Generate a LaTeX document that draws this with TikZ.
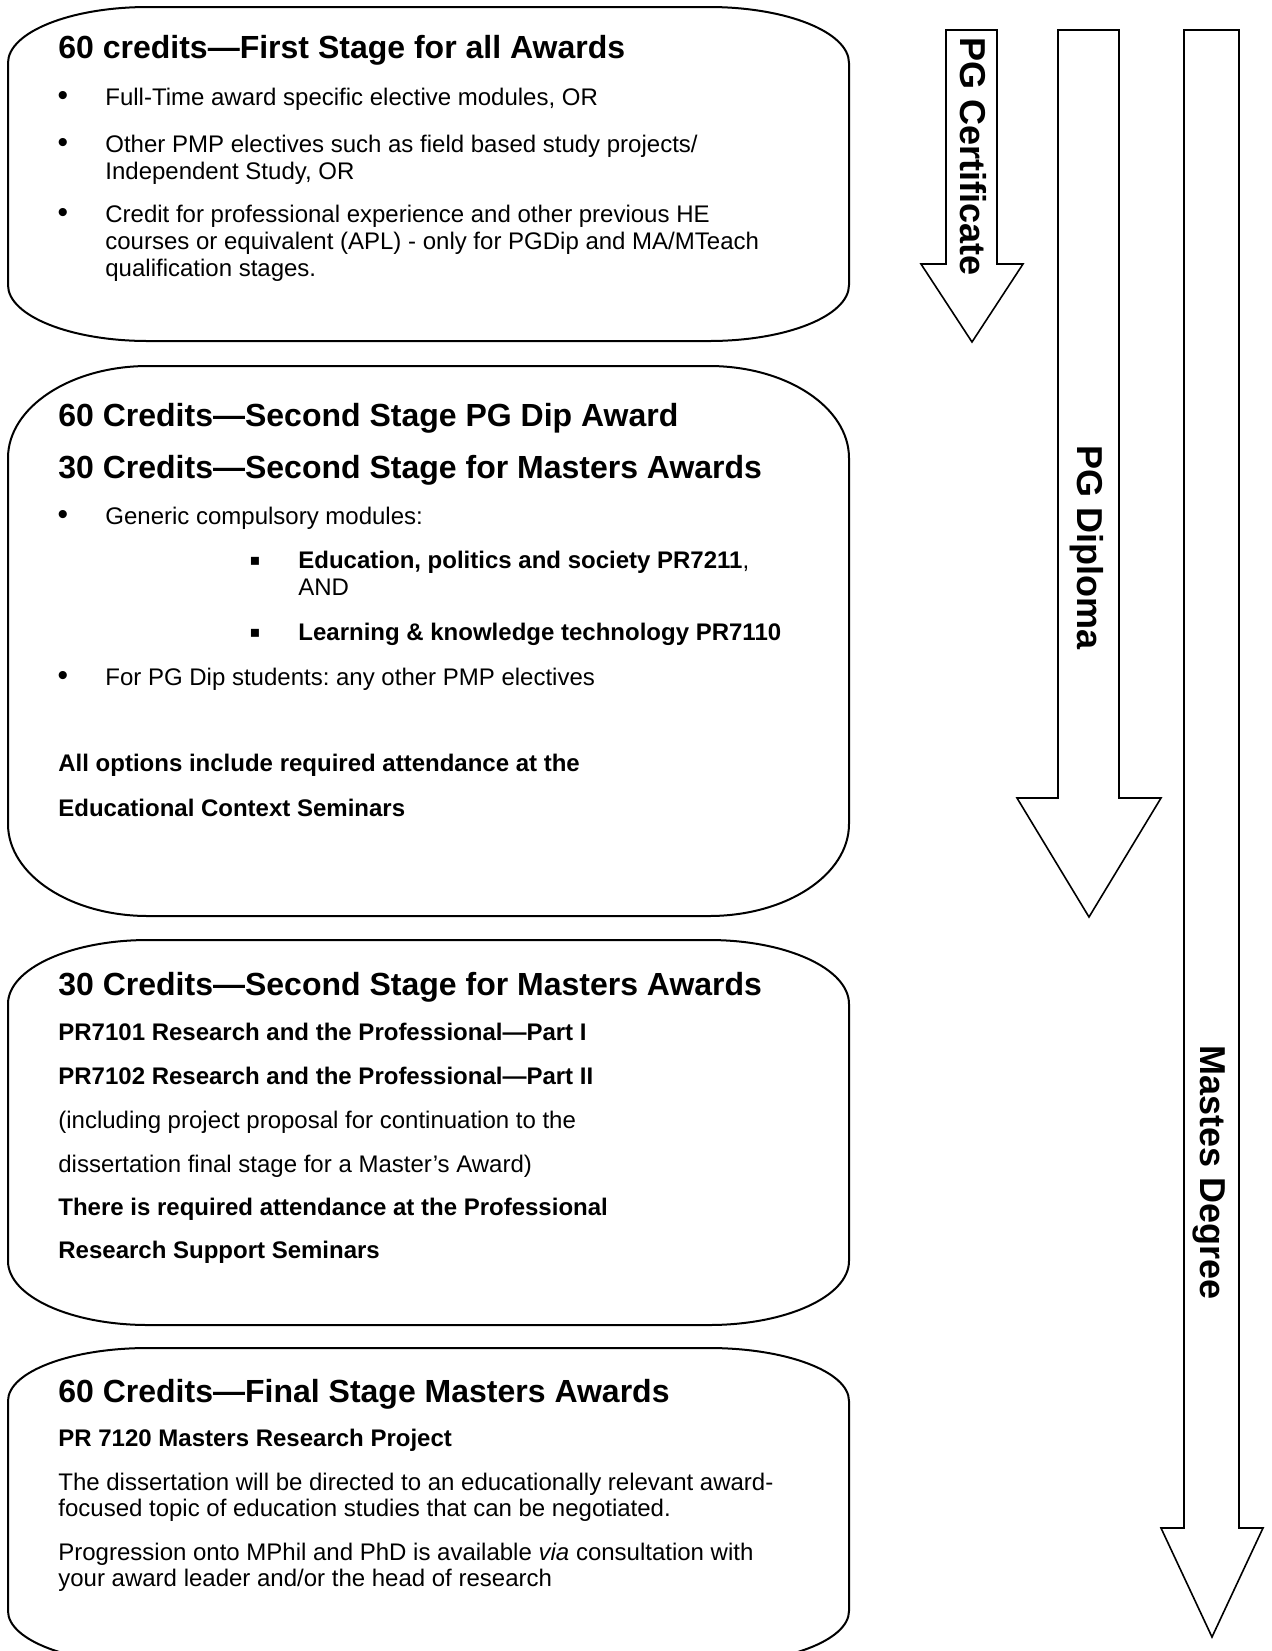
\documentclass[tikz,border=0pt]{standalone}
\usepackage{fontspec}
\setmainfont{Liberation Sans}
\newfontfamily\dejavu{DejaVu Sans}
\frenchspacing
\begin{document}
\frenchspacing
\begin{tikzpicture}[x=0.5pt,y=-0.5pt,
  ttl/.style={anchor=base west, inner sep=0pt, font=\fontsize{16}{19}\selectfont\bfseries},
  txt/.style={anchor=base west, inner sep=0pt, font=\fontsize{12}{14}\selectfont},
  btxt/.style={anchor=base west, inner sep=0pt, font=\fontsize{12}{14}\selectfont\bfseries},
  bul/.style={anchor=center, inner sep=0pt, font=\fontsize{15}{15}\selectfont},
  sqbul/.style={anchor=center, inner sep=0pt, font=\dejavu\fontsize{8}{8}\selectfont},
  vlabel/.style={anchor=base west, inner sep=0pt, rotate=-90, font=\fontsize{18}{21}\selectfont\bfseries},
  boxline/.style={line width=1pt, line join=round},
  arrowline/.style={line width=0.8pt, line join=miter}
]
\path[use as bounding box] (0,0) rectangle (1271,1651);
\clip (0,0) rectangle (1271,1651);

% ---- stage boxes (rounded with elliptical corners)
\draw[boxline] (148,7) -- (709,7)
  arc[start angle=90,end angle=0,x radius=70pt,y radius=28pt] -- (849,285)
  arc[start angle=0,end angle=-90,x radius=70pt,y radius=28pt] -- (148,341)
  arc[start angle=270,end angle=180,x radius=70pt,y radius=28pt] -- (8,63)
  arc[start angle=180,end angle=90,x radius=70pt,y radius=28pt] -- cycle;
\draw[boxline] (148,366) -- (709,366)
  arc[start angle=90,end angle=0,x radius=70pt,y radius=46pt] -- (849,824)
  arc[start angle=0,end angle=-90,x radius=70pt,y radius=46pt] -- (148,916)
  arc[start angle=270,end angle=180,x radius=70pt,y radius=46pt] -- (8,458)
  arc[start angle=180,end angle=90,x radius=70pt,y radius=46pt] -- cycle;
\draw[boxline] (148,940) -- (709,940)
  arc[start angle=90,end angle=0,x radius=70pt,y radius=32pt] -- (849,1261)
  arc[start angle=0,end angle=-90,x radius=70pt,y radius=32pt] -- (148,1325)
  arc[start angle=270,end angle=180,x radius=70pt,y radius=32pt] -- (8,1004)
  arc[start angle=180,end angle=90,x radius=70pt,y radius=32pt] -- cycle;
\draw[boxline] (148,1348) -- (709,1348)
  arc[start angle=90,end angle=0,x radius=70pt,y radius=26.5pt] -- (849,1611)
  arc[start angle=0,end angle=-90,x radius=70pt,y radius=26.5pt] -- (148,1664)
  arc[start angle=270,end angle=180,x radius=70pt,y radius=26.5pt] -- (8,1401)
  arc[start angle=180,end angle=90,x radius=70pt,y radius=26.5pt] -- cycle;

% ---- block arrows
\draw[arrowline] (946,30) -- (997,30) -- (997,264) -- (1023,264) -- (972,342) -- (921,264) -- (946,264) -- cycle;
\draw[arrowline] (1058,30) -- (1119,30) -- (1119,798) -- (1161,798) -- (1089,917) -- (1017,798) -- (1058,798) -- cycle;
\draw[arrowline] (1184,30) -- (1239,30) -- (1239,1528) -- (1263,1528) -- (1212,1637) -- (1161,1528) -- (1184,1528) -- cycle;
\node[vlabel] (lcert) at (960,37) {PG Certificate};
\node[vlabel] (ldip) at (1077,445) {PG Diploma};
\node[vlabel] (lmas) at (1200,1045) {Mastes Degree};

% ---- box 1
\node[ttl] (t1) at (58,58) {60 credits—First Stage for all Awards};
\node[bul] (b1a) at (63,98) {\textbullet};
\node[txt] (l1a) at (105,105) {Full-Time award specific elective modules, OR};
\node[bul] (b1b) at (63,145) {\textbullet};
\node[txt] (l1b) at (105,152) {Other PMP electives such as field based study projects/};
\node[txt] (l1c) at (105,179) {Independent Study, OR};
\node[bul] (b1c) at (63,215) {\textbullet};
\node[txt] (l1d) at (105,222) {Credit for professional experience and other previous HE};
\node[txt] (l1e) at (105,249) {courses or equivalent (APL) - only for PGDip and MA/MTeach};
\node[txt] (l1f) at (105,276) {qualification stages.};

% ---- box 2
\node[ttl] (t2a) at (58,426) {60 Credits—Second Stage PG Dip Award};
\node[ttl] (t2b) at (58,478) {30 Credits—Second Stage for Masters Awards};
\node[bul] (b2a) at (63,517) {\textbullet};
\node[txt] (l2a) at (105,524) {Generic compulsory modules:};
\node[sqbul] (s2a) at (255,561) {▪};
\node[txt] (l2b) at (298,568) {\bfseries Education, politics and society PR7211\mdseries,};
\node[txt] (l2c) at (298,595) {AND};
\node[sqbul] (s2b) at (255,633) {▪};
\node[btxt] (l2d) at (298,640) {Learning \& knowledge technology PR7110};
\node[bul] (b2b) at (63,678) {\textbullet};
\node[txt] (l2e) at (105,685) {For PG Dip students: any other PMP electives};
\node[btxt] (l2f) at (58,771) {All options include required attendance at the};
\node[btxt] (l2g) at (58,816) {Educational Context Seminars};

% ---- box 3
\node[ttl] (t3) at (58,995) {30 Credits—Second Stage for Masters Awards};
\node[btxt] (l3a) at (58,1040) {PR7101 Research and the Professional—Part I};
\node[btxt] (l3b) at (58,1084) {PR7102 Research and the Professional—Part II};
\node[txt] (l3c) at (58,1128) {(including project proposal for continuation to the};
\node[txt] (l3d) at (58,1172) {dissertation final stage for a Master’s Award)};
\node[btxt] (l3e) at (58,1215) {There is required attendance at the Professional};
\node[btxt] (l3f) at (58,1258) {Research Support Seminars};

% ---- box 4
\node[ttl] (t4) at (58,1402) {60 Credits—Final Stage Masters Awards};
\node[btxt] (l4a) at (58,1446) {PR 7120 Masters Research Project};
\node[txt] (l4b) at (58,1490) {The dissertation will be directed to an educationally relevant award-};
\node[txt] (l4c) at (58,1516) {focused topic of education studies that can be negotiated.};
\node[txt] (l4d) at (58,1560) {Progression onto MPhil and PhD is available \textit{via} consultation with};
\node[txt] (l4e) at (58,1586) {your award leader and/or the head of research};
\end{tikzpicture}
\end{document}
